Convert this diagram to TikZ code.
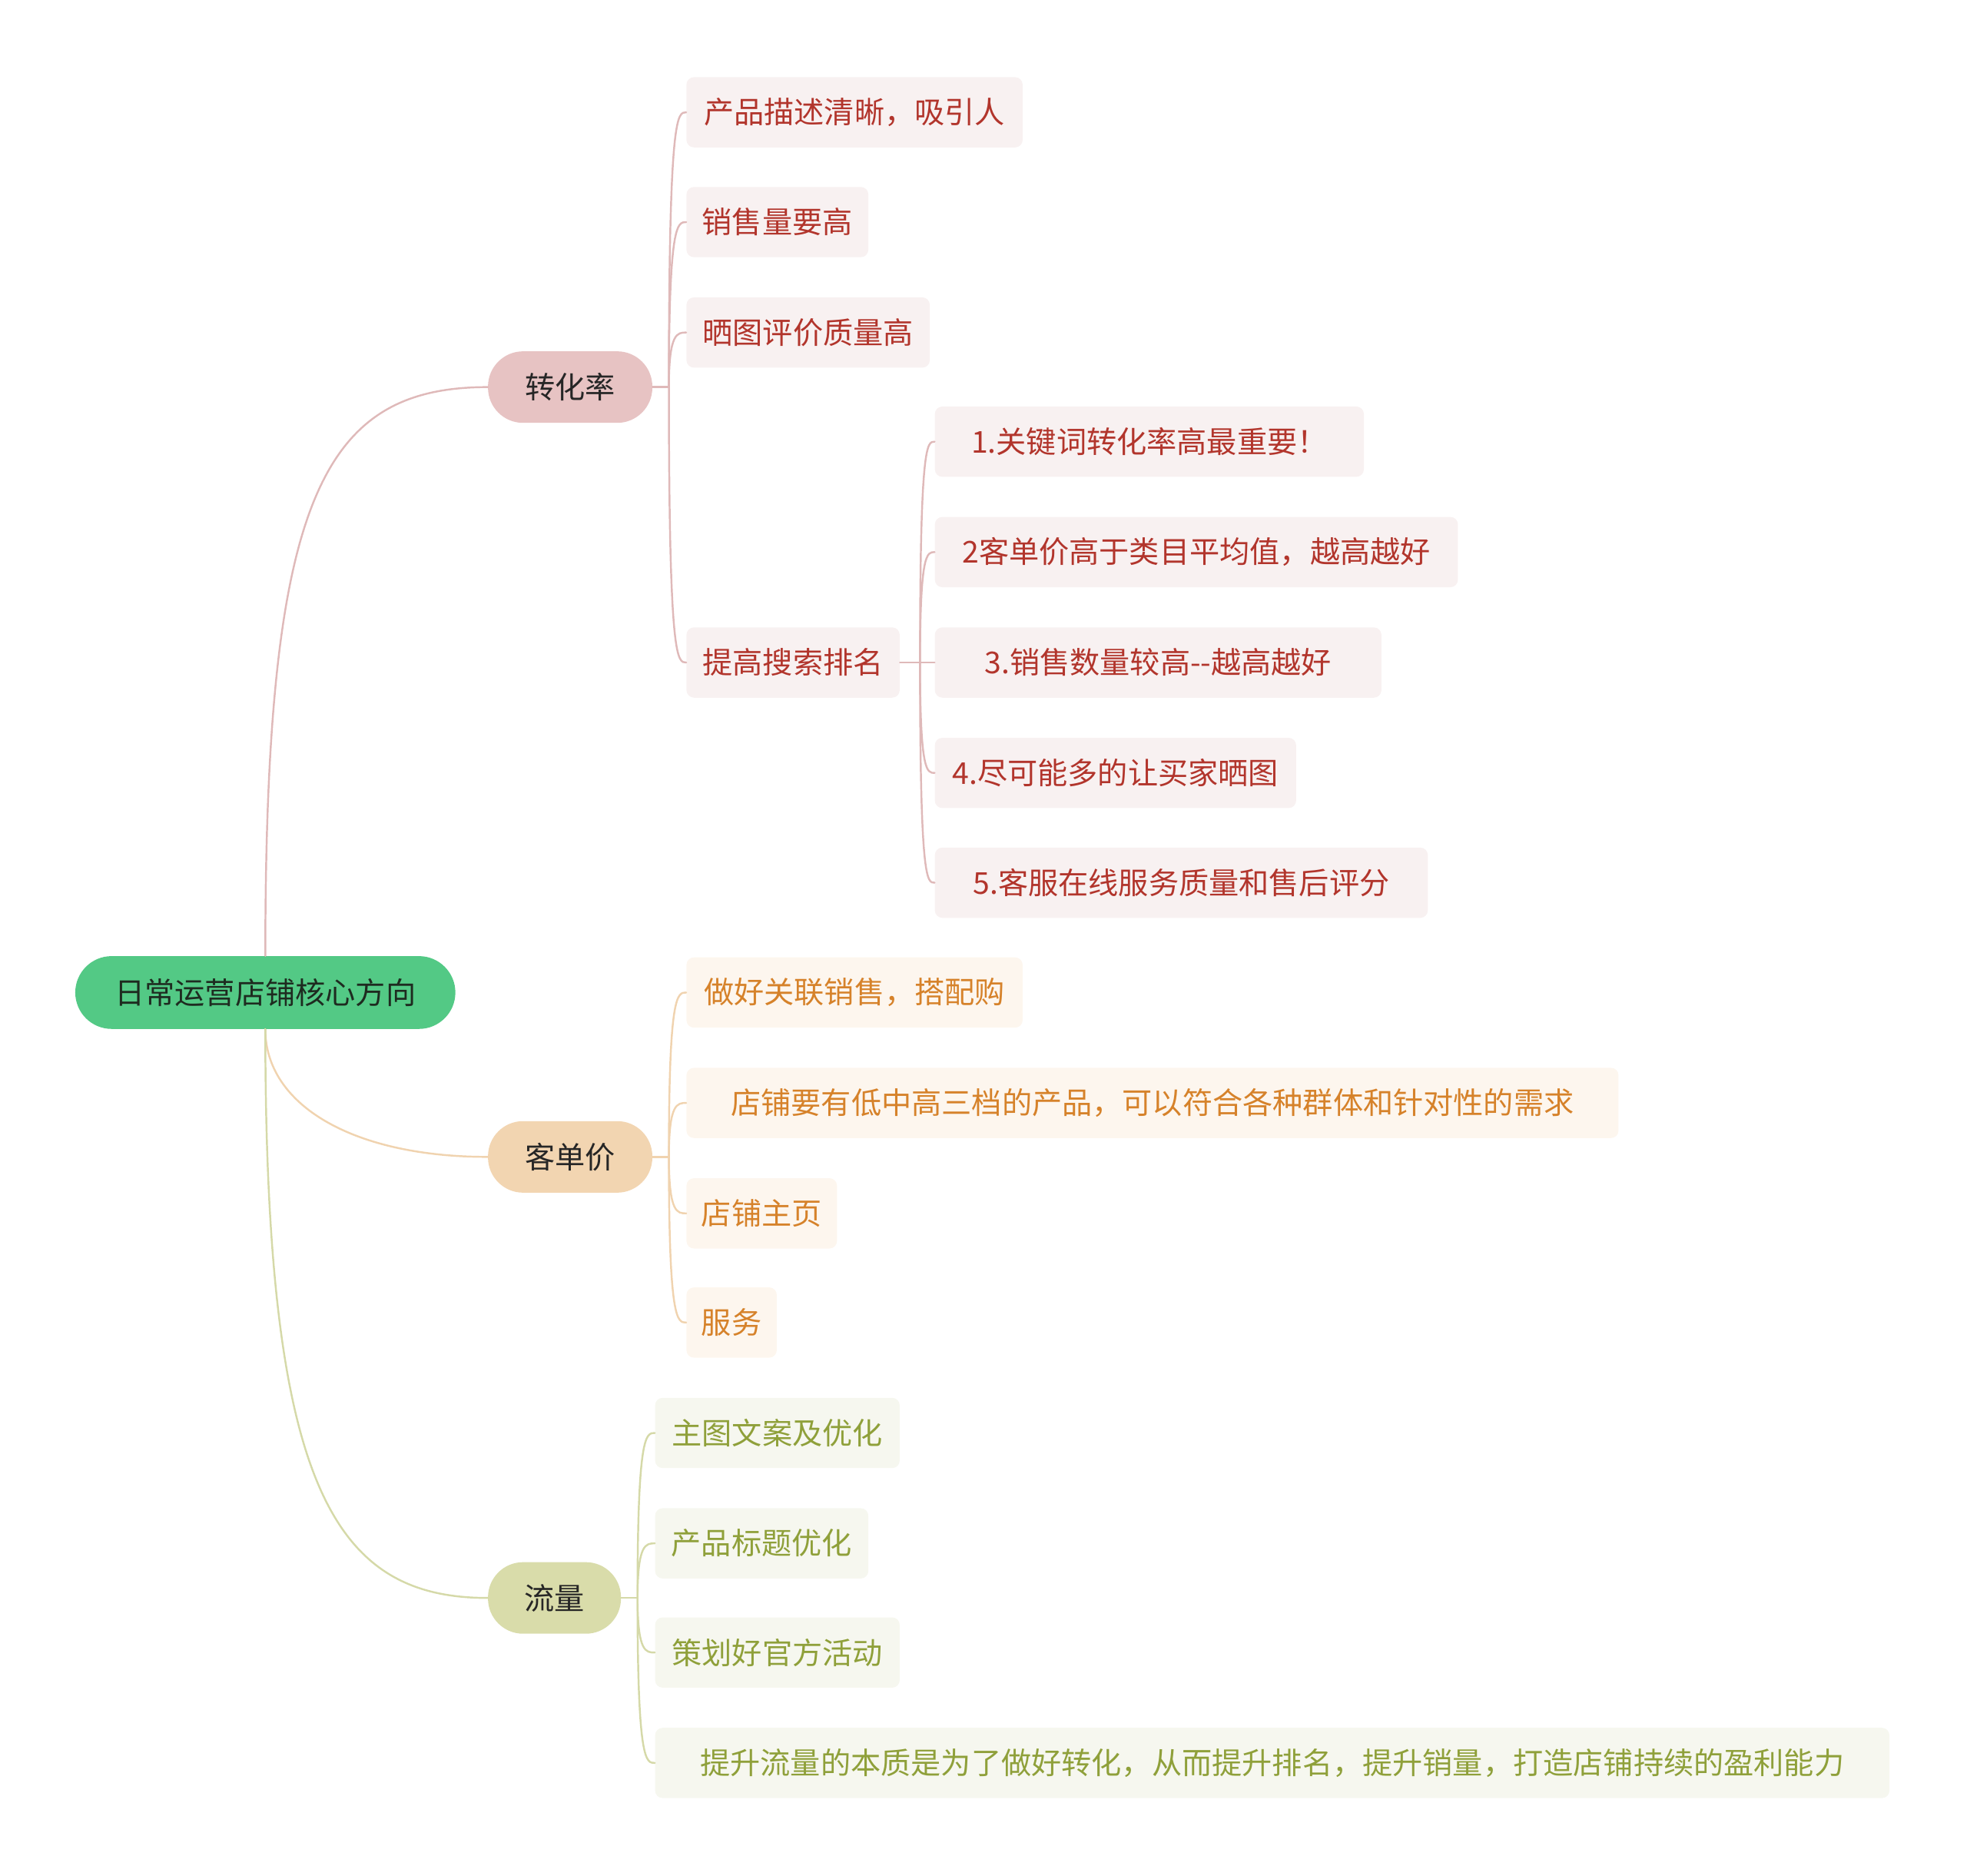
\documentclass[tikz,border=0pt]{standalone}
\usepackage{fontspec}
\newfontfamily\cjk{Noto Sans CJK SC}
\usetikzlibrary{calc}
\definecolor{rootfill}{HTML}{53C985}
\definecolor{roottext}{HTML}{1E2B20}
\definecolor{zfill}{HTML}{E7C3C3}
\definecolor{kfill}{HTML}{F2D5B1}
\definecolor{lfill}{HTML}{D9DCAA}
\definecolor{rtext}{HTML}{B2352C}
\definecolor{otext}{HTML}{D6822A}
\definecolor{gtext}{HTML}{8FA03A}
\definecolor{rleaf}{HTML}{F8F1F1}
\definecolor{oleaf}{HTML}{FDF6EE}
\definecolor{gleaf}{HTML}{F6F7EF}
\definecolor{rline}{HTML}{DFB9B9}
\definecolor{oline}{HTML}{F0D3AF}
\definecolor{gline}{HTML}{D5D9A8}
\begin{document}
\begin{tikzpicture}[x=1pt,y=-1pt,
  txt/.style={font=\cjk\fontsize{24}{28}\selectfont},
  rootbox/.style={txt, rectangle, rounded corners=29pt, inner sep=0pt, fill=rootfill, text=roottext, minimum width=303pt, minimum height=58pt},
  mainbox/.style={txt, rectangle, rounded corners=28pt, inner sep=0pt, minimum height=57pt, text=black!85},
  leaf/.style={txt, rectangle, rounded corners=6pt, inner sep=0pt, minimum height=56pt, anchor=west},
  rl/.style={leaf, fill=rleaf, text=rtext},
  ol/.style={leaf, fill=oleaf, text=otext},
  gl/.style={leaf, fill=gleaf, text=gtext},
  conn/.style={line width=1.5pt, line cap=round}
]
\useasboundingbox (0,0) rectangle (1568,1495);

% root
\node[rootbox] (root) at (211.5,791) {日常运营店铺核心方向};

% main topics
\node[mainbox, fill=zfill, minimum width=131pt] (zhl) at (454.5,308.5) {转化率};
\node[mainbox, fill=kfill, minimum width=131pt] (kdj) at (454.5,922) {客单价};
\node[mainbox, fill=lfill, minimum width=106pt] (ll) at (442,1273.5) {流量};

% conversion rate leaves
\node[rl, minimum width=268pt] (r1) at (547,89.5) {产品描述清晰，吸引人};
\node[rl, minimum width=145pt] (r2) at (547,177) {销售量要高};
\node[rl, minimum width=194pt] (r3) at (547,265) {晒图评价质量高};
\node[rl, minimum width=170pt] (r4) at (547,528) {提高搜索排名};
\node[rl, minimum width=342pt] (s1) at (745,352) {1.关键词转化率高最重要！};
\node[rl, minimum width=417pt] (s2) at (745,440) {2客单价高于类目平均值，越高越好};
\node[rl, minimum width=356pt] (s3) at (745,528) {3.销售数量较高--越高越好};
\node[rl, minimum width=288pt] (s4) at (745,616) {4.尽可能多的让买家晒图};
\node[rl, minimum width=393pt] (s5) at (745,703.5) {5.客服在线服务质量和售后评分};

% order value leaves
\node[ol, minimum width=268pt] (o1) at (547,791) {做好关联销售，搭配购};
\node[ol, minimum width=743pt] (o2) at (547,879) {店铺要有低中高三档的产品，可以符合各种群体和针对性的需求};
\node[ol, minimum width=120pt] (o3) at (547,967) {店铺主页};
\node[ol, minimum width=72pt] (o4) at (547,1054) {服务};

% traffic leaves
\node[gl, minimum width=195pt] (g1) at (522,1142) {主图文案及优化};
\node[gl, minimum width=170pt] (g2) at (522,1230) {产品标题优化};
\node[gl, minimum width=195pt] (g3) at (522,1317) {策划好官方活动};
\node[gl, minimum width=984pt] (g4) at (522,1405) {提升流量的本质是为了做好转化，从而提升排名，提升销量，打造店铺持续的盈利能力};

% root connectors
\draw[conn, rline] (root.north) .. controls ($(root.north)!0.8!(root.north|-zhl.west)$) and ($(zhl.west)!0.75!(root.north|-zhl.west)$) .. (zhl.west);
\draw[conn, oline] (root.south) .. controls ($(root.south)!0.6!(root.south|-kdj.west)$) and ($(kdj.west)!0.6!(root.south|-kdj.west)$) .. (kdj.west);
\draw[conn, gline] (root.south) .. controls ($(root.south)!0.8!(root.south|-ll.west)$) and ($(ll.west)!0.7!(root.south|-ll.west)$) .. (ll.west);

% branch connectors
\draw[conn, rline] (zhl.east) -- ++(13,0) coordinate (zj);
\foreach \c in {r1,r2,r3,r4}
  \draw[conn, rline] (zj) .. controls (zj |- \c.west) and ($(\c.west)+(-7,0)$) .. (\c.west);
\draw[conn, rline] (r4.east) -- ++(16,0) coordinate (sj);
\foreach \c in {s1,s2,s3,s4,s5}
  \draw[conn, rline] (sj) .. controls (sj |- \c.west) and ($(\c.west)+(-6,0)$) .. (\c.west);
\draw[conn, oline] (kdj.east) -- ++(13,0) coordinate (kj);
\foreach \c in {o1,o2,o3,o4}
  \draw[conn, oline] (kj) .. controls (kj |- \c.west) and ($(\c.west)+(-7,0)$) .. (\c.west);
\draw[conn, gline] (ll.east) -- ++(13,0) coordinate (lj);
\foreach \c in {g1,g2,g3,g4}
  \draw[conn, gline] (lj) .. controls (lj |- \c.west) and ($(\c.west)+(-7,0)$) .. (\c.west);
\end{tikzpicture}
\end{document}
